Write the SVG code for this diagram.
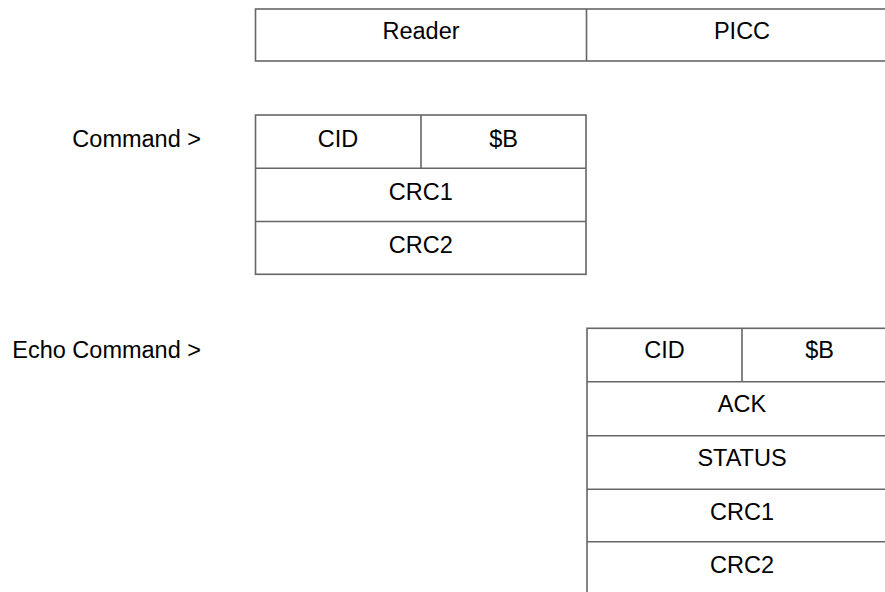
<svg xmlns="http://www.w3.org/2000/svg" width="885" height="592" viewBox="0 0 885 592">
<style>
.c{fill:#fff;stroke:#666;stroke-width:1.6}
.l{stroke:#666;stroke-width:1.6}
text{font-family:"Liberation Sans",Arial,sans-serif;font-size:23.5px;fill:#000}
.m{text-anchor:middle}
.e{text-anchor:end}
</style>
<rect width="885" height="592" fill="#fff"/>
<g id="header">
<rect class="c" x="255.5" y="9" width="642" height="52"/>
<line class="l" x1="586.5" y1="9" x2="586.5" y2="61"/>
<text class="m" x="421" y="38.7">Reader</text>
<text class="m" x="742" y="38.7">PICC</text>
</g>
<g id="command-label"><text class="e" x="201" y="146.7">Command &gt;</text></g>
<g id="command">
<rect class="c" x="255.5" y="115" width="330.5" height="159.3"/>
<line class="l" x1="421" y1="115" x2="421" y2="168.3"/>
<line class="l" x1="255.5" y1="168.3" x2="586" y2="168.3"/>
<line class="l" x1="255.5" y1="221.5" x2="586" y2="221.5"/>
<text class="m" x="338" y="146.7">CID</text>
<text class="m" x="503.5" y="146.7">$B</text>
<text class="m" x="420.75" y="200">CRC1</text>
<text class="m" x="420.75" y="252.8">CRC2</text>
</g>
<g id="echo-label"><text class="e" x="201" y="358.3">Echo Command &gt;</text></g>
<g id="echo">
<rect class="c" x="587" y="328.3" width="310" height="300"/>
<line class="l" x1="742" y1="328.3" x2="742" y2="381.7"/>
<line class="l" x1="587" y1="381.7" x2="897" y2="381.7"/>
<line class="l" x1="587" y1="435.7" x2="897" y2="435.7"/>
<line class="l" x1="587" y1="489.3" x2="897" y2="489.3"/>
<line class="l" x1="587" y1="541.7" x2="897" y2="541.7"/>
<text class="m" x="664.5" y="357.7">CID</text>
<text class="m" x="819.5" y="357.7">$B</text>
<text class="m" x="742" y="411.7">ACK</text>
<text class="m" x="742" y="465.7">STATUS</text>
<text class="m" x="742" y="520">CRC1</text>
<text class="m" x="742" y="572.7">CRC2</text>
</g>
</svg>
